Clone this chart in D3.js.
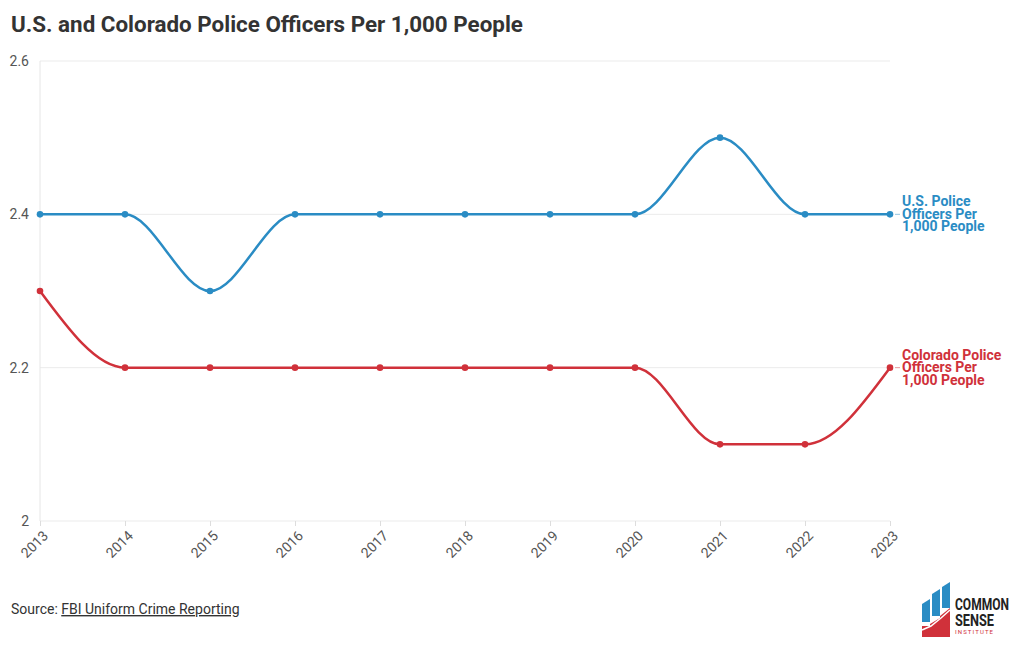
<!DOCTYPE html>
<html><head><meta charset="utf-8">
<script src="https://cdn.jsdelivr.net/npm/d3@7"></script>
<style>
body{margin:0;background:#fff;font-family:Roboto,sans-serif;}
</style></head>
<body><svg id="c" width="1020" height="650"></svg>
<script>
const years = [2013,2014,2015,2016,2017,2018,2019,2020,2021,2022,2023];
const usValues = [2.4,2.4,2.3,2.4,2.4,2.4,2.4,2.4,2.5,2.4,2.4];
const coValues = [2.3,2.2,2.2,2.2,2.2,2.2,2.2,2.2,2.1,2.1,2.2];
const yTicks = [2.0,2.2,2.4,2.6];
const seriesNames = [["U.S. Police","Officers Per","1,000 People"],["Colorado Police","Officers Per","1,000 People"]];
const colors = ["#2a8cc4","#d0313a"];

const svg = d3.select("#c");
const x = d3.scaleLinear().domain([2013,2023]).range([40,890]);
const y = d3.scaleLinear().domain([2.0,2.6]).range([521,61]);

svg.append("text").attr("x",11).attr("y",32).attr("font-size",22.4).attr("font-weight",700)
  .attr("fill","#333").text("U.S. and Colorado Police Officers Per 1,000 People");

// grid
svg.append("g").selectAll("line").data(yTicks).join("line")
  .attr("x1",40).attr("x2",890).attr("y1",d=>y(d)).attr("y2",d=>y(d))
  .attr("stroke","#ebebeb").attr("stroke-width",1);
svg.append("line").attr("x1",40).attr("x2",40).attr("y1",61).attr("y2",521).attr("stroke","#e6e6e6");

const ya = d3.axisLeft(y).tickValues(yTicks).tickSize(0).tickFormat(d=>d===2?"2":d3.format(".1f")(d));
const yg = svg.append("g").attr("transform","translate(32,0)").call(ya);
yg.select(".domain").remove();
yg.selectAll("text").attr("font-family","Roboto").attr("font-size",14).attr("fill","#555").attr("dx",0);

const xa = d3.axisBottom(x).tickValues(years).tickFormat(d3.format("d")).tickSize(5);
const xg = svg.append("g").attr("transform","translate(0,521)").call(xa);
xg.select(".domain").remove();
xg.selectAll("line").attr("stroke","#ddd");
xg.selectAll("text").attr("font-family","Roboto").attr("font-size",14).attr("fill","#555")
  .attr("text-anchor","end").attr("transform","translate(-4,3) rotate(-45)").attr("dy","0.7em").attr("dx","0");

const line = d3.line().x((d,i)=>x(years[i])).y(d=>y(d)).curve(d3.curveMonotoneX);
[usValues,coValues].forEach((vals,k)=>{
  svg.append("path").attr("d",line(vals)).attr("fill","none").attr("stroke",colors[k]).attr("stroke-width",2.5);
  svg.append("g").selectAll("circle").data(vals).join("circle")
    .attr("cx",(d,i)=>x(years[i])).attr("cy",d=>y(d)).attr("r",3.3).attr("fill",colors[k]);
  const last = vals[vals.length-1];
  svg.append("line").attr("x1",x(2023)+5).attr("x2",x(2023)+10).attr("y1",y(last)).attr("y2",y(last))
    .attr("stroke",colors[k]).attr("stroke-opacity",0.5);
  const t = svg.append("text").attr("x",x(2023)+12).attr("y",y(last)-8).attr("font-size",14)
    .attr("font-weight",700).attr("fill",colors[k]);
  seriesNames[k].forEach((s,j)=>t.append("tspan").attr("x",x(2023)+12).attr("dy",j===0?0:12.5).text(s));
});

// source
const src = svg.append("text").attr("x",11).attr("y",614).attr("font-size",14).attr("fill","#333");
src.append("tspan").text("Source: ");
src.append("tspan").attr("text-decoration","underline").text("FBI Uniform Crime Reporting");

// logo
const lg = svg.append("g").attr("transform","translate(921,580)");
const blue="#2a8cc4", red="#d0313a";
lg.append("polygon").attr("points","1,24 9,19 9,42 1,42").attr("fill",blue);
lg.append("polygon").attr("points","11,14 19,9 19,36 11,36").attr("fill",blue);
lg.append("polygon").attr("points","21,7 29,2 29,28 21,28").attr("fill",blue);
lg.append("polygon").attr("points","1,46 9,46 9,44 19,38 19,36 29,28 29,57 1,57").attr("fill",red);
lg.append("polyline").attr("points","1,50 10,46 20,38 29,30").attr("fill","none").attr("stroke","#fff").attr("stroke-width",1.5);
lg.append("text").attr("x",34).attr("y",30).attr("font-size",17).attr("font-weight",700).attr("fill","#222").attr("textLength",54).attr("lengthAdjust","spacingAndGlyphs").text("COMMON");
lg.append("text").attr("x",34).attr("y",46).attr("font-size",17).attr("font-weight",700).attr("fill","#222").attr("textLength",39).attr("lengthAdjust","spacingAndGlyphs").text("SENSE");
lg.append("text").attr("x",34).attr("y",54).attr("font-size",6).attr("fill",red).attr("textLength",38).text("INSTITUTE");
</script></body></html>
